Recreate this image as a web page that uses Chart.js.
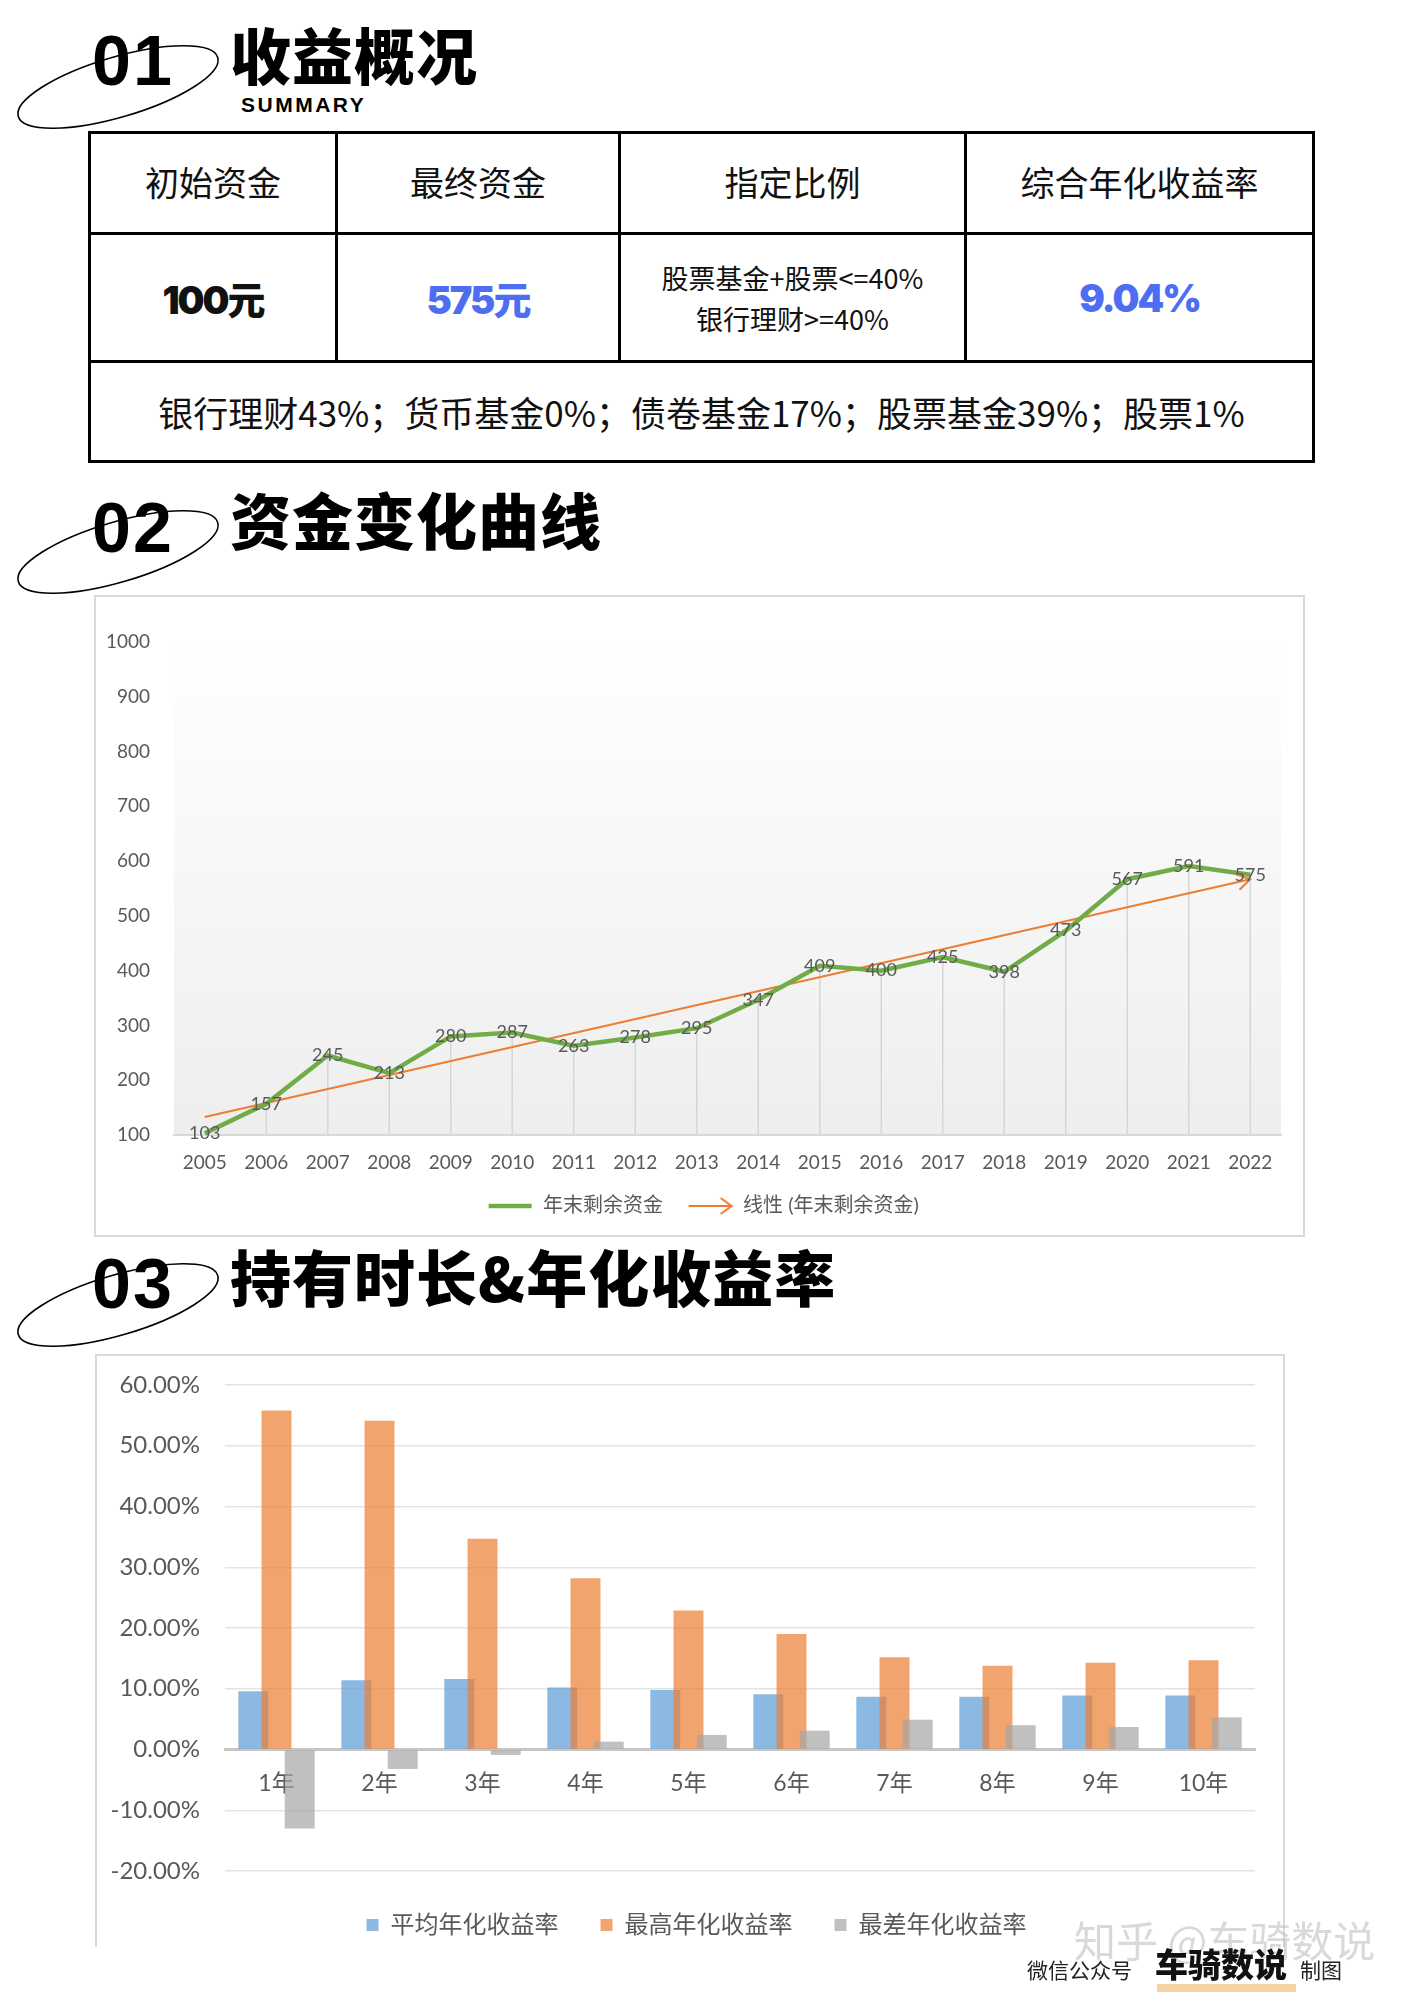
<!DOCTYPE html>
<html>
<head>
<meta charset="utf-8">
<script src="https://cdn.jsdelivr.net/npm/chart.js@4.4.1/dist/chart.umd.min.js"></script>
<style>
  html, body { margin: 0; padding: 0; background: #fff; }
  body { width: 1414px; height: 2000px; position: relative; overflow: hidden; font-family: 'Noto Sans CJK SC', sans-serif; }
  .abs { position: absolute; white-space: nowrap; line-height: 1; }
  .num { font-family: 'Liberation Sans', Arial, sans-serif; font-weight: 700; font-size: 70px; letter-spacing: 2px; color: #000; }
  .ttl { font-family: 'Noto Sans CJK SC', sans-serif; font-weight: 900; font-size: 61px; letter-spacing: 1px; color: #000; }
  .sub { font-family: 'Liberation Sans', Arial, sans-serif; font-weight: 700; font-size: 21px; letter-spacing: 2.5px; }
  table.sum { position: absolute; left: 88px; top: 131px; width: 1224px; border-collapse: collapse; table-layout: fixed; }
  table.sum td { border: 3px solid #000; text-align: center; vertical-align: middle; padding: 0; color: #111; }
  table.sum td.hd { font-size: 34px; font-weight: 400; padding-bottom: 4px; }
  table.sum td.big { font-family: Inter, 'Noto Sans CJK SC', sans-serif; font-weight: 900; font-size: 38px; letter-spacing: -2px; }
  table.sum td.blue { color: #4d6ef2; }
  table.sum td.rule { font-size: 27px; line-height: 41px; }
  table.sum td.mix { font-size: 35px; }
  .box { position: absolute; box-sizing: border-box; border: 2px solid #d9d9d9; }
  .box canvas { display: block; }
</style>
</head>
<body>

<svg class="abs" width="1414" height="2000" style="left:0;top:0;" xmlns="http://www.w3.org/2000/svg">
  <ellipse cx="118" cy="87" rx="104" ry="30" fill="none" stroke="#000" stroke-width="1.6" transform="rotate(-16.5 118 87)"/>
  <ellipse cx="118" cy="552" rx="104" ry="30" fill="none" stroke="#000" stroke-width="1.6" transform="rotate(-16.5 118 552)"/>
  <ellipse cx="118" cy="1305" rx="104" ry="30" fill="none" stroke="#000" stroke-width="1.6" transform="rotate(-16.5 118 1305)"/>
</svg>

<div class="abs num" style="left:92px;top:26px;">01</div>
<div class="abs ttl" style="left:230px;top:23px;">收益概况</div>
<div class="abs sub" style="left:241px;top:94px;">SUMMARY</div>

<table class="sum">
  <colgroup><col style="width:247px"><col style="width:283px"><col style="width:346px"><col style="width:348px"></colgroup>
  <tr style="height:101px">
    <td class="hd">初始资金</td><td class="hd">最终资金</td><td class="hd">指定比例</td><td class="hd">综合年化收益率</td>
  </tr>
  <tr style="height:128px">
    <td class="big">100元</td>
    <td class="big blue">575元</td>
    <td class="rule">股票基金+股票&lt;=40%<br>银行理财&gt;=40%</td>
    <td class="big blue">9.04%</td>
  </tr>
  <tr style="height:100px">
    <td class="mix" colspan="4">银行理财43%；货币基金0%；债卷基金17%；股票基金39%；股票1%</td>
  </tr>
</table>

<div class="abs num" style="left:92px;top:493px;">02</div>
<div class="abs ttl" style="left:230px;top:488px;">资金变化曲线</div>

<div class="box" style="left:94px;top:595px;width:1211px;height:642px;">
  <canvas id="fundChart" width="1207" height="638"></canvas>
</div>

<div class="abs num" style="left:92px;top:1249px;">03</div>
<div class="abs ttl" style="left:230px;top:1245px;">持有时长&amp;年化收益率</div>

<div class="box" style="left:95px;top:1354px;width:1190px;height:593px;border-bottom:none;">
  <canvas id="rateChart" width="1186" height="591"></canvas>
</div>

<div class="abs" style="left:1074px;top:1918px;font-size:42px;color:rgba(185,185,185,0.55);">知乎 @车骑数说</div>
<div class="abs" style="left:1027px;top:1959px;font-size:21px;color:#222;">微信公众号</div>
<div class="abs" style="left:1155px;top:1947px;font-size:33px;font-weight:900;color:#111;">车骑数说</div>
<div class="abs" style="left:1300px;top:1959px;font-size:21px;color:#222;">制图</div>
<div class="abs" style="left:1157px;top:1984px;width:139px;height:8px;background:#f3d3a3;"></div>

<script>
// ---- data: 资金变化曲线 ----
const years = ['2005', '2006', '2007', '2008', '2009', '2010', '2011', '2012', '2013',
               '2014', '2015', '2016', '2017', '2018', '2019', '2020', '2021', '2022'];
const yearEndFunds = [103, 157, 245, 213, 280, 287, 263, 278, 295, 347, 409, 400, 425, 398, 473, 567, 591, 575];
const trendEnds = [133, 567]; // linear trend line at 2005 and 2022
const fundMin = 100;
const fundMax = 1000;
const fundStep = 100;

// ---- data: 持有时长&年化收益率 ----
const holdPeriods = ['1年', '2年', '3年', '4年', '5年', '6年', '7年', '8年', '9年', '10年'];
const avgReturn = [9.6, 11.4, 11.6, 10.2, 9.8, 9.1, 8.7, 8.7, 8.9, 8.9];
const bestReturn = [55.8, 54.1, 34.7, 28.2, 22.9, 19.0, 15.2, 13.8, 14.3, 14.7];
const worstReturn = [-13.0, -3.2, -0.9, 1.3, 2.4, 3.1, 4.9, 4.0, 3.7, 5.3];
const rateMin = -20;
const rateMax = 60;
const rateStep = 10;

Chart.defaults.font.family = "Lato, 'Noto Sans CJK SC', sans-serif";
Chart.defaults.color = '#595959';

// legend icons: green line, orange arrow
function legendIcon(color, arrow) {
  const c = document.createElement('canvas');
  c.width = 46; c.height = 20;
  const g = c.getContext('2d');
  g.strokeStyle = color;
  g.lineWidth = arrow ? 2 : 4.5;
  g.beginPath(); g.moveTo(1, 10); g.lineTo(44, 10); g.stroke();
  if (arrow) {
    g.beginPath(); g.moveTo(33, 2); g.lineTo(44, 10); g.lineTo(33, 18); g.stroke();
  }
  return c;
}
const icons = [legendIcon('#70ad47', false), legendIcon('#ed7d31', true)];

const trendData = years.map((_, i) => i === 0 ? trendEnds[0] : (i === years.length - 1 ? trendEnds[1] : null));

// move the legend box so it is centred like the original
function legendShift(left) {
  return {
    id: 'legendShift',
    afterLayout(chart) { chart.legend.left = left; }
  };
}

const lineDecor = {
  id: 'lineDecor',
  beforeDraw(chart) {
    const { ctx, chartArea: a } = chart;
    const g = ctx.createLinearGradient(0, a.top, 0, a.bottom);
    g.addColorStop(0, '#ffffff');
    g.addColorStop(1, '#eeeeee');
    ctx.save();
    ctx.fillStyle = g;
    ctx.fillRect(a.left, a.top, a.width, a.height);
    ctx.restore();
  },
  beforeDatasetsDraw(chart) {
    // drop lines from each point to the axis
    const { ctx, scales: { y } } = chart;
    const base = y.getPixelForValue(fundMin);
    ctx.save();
    ctx.strokeStyle = '#d6d6d6';
    ctx.lineWidth = 1.5;
    chart.getDatasetMeta(0).data.forEach(p => {
      ctx.beginPath(); ctx.moveTo(p.x, base); ctx.lineTo(p.x, p.y); ctx.stroke();
    });
    ctx.restore();
  },
  afterDatasetsDraw(chart) {
    const ctx = chart.ctx;
    ctx.save();
    // arrow head on trend line
    const tp = chart.getDatasetMeta(1).data;
    const a = tp[0], b = tp[tp.length - 1];
    const ang = Math.atan2(b.y - a.y, b.x - a.x);
    ctx.strokeStyle = '#ed7d31';
    ctx.lineWidth = 2;
    ctx.beginPath();
    ctx.moveTo(b.x - 15 * Math.cos(ang - 0.55), b.y - 15 * Math.sin(ang - 0.55));
    ctx.lineTo(b.x, b.y);
    ctx.lineTo(b.x - 15 * Math.cos(ang + 0.55), b.y - 15 * Math.sin(ang + 0.55));
    ctx.stroke();
    // value labels centred on the points
    ctx.font = "18px Lato, sans-serif";
    ctx.fillStyle = '#595959';
    ctx.textAlign = 'center';
    ctx.textBaseline = 'middle';
    chart.getDatasetMeta(0).data.forEach((p, i) => ctx.fillText(String(yearEndFunds[i]), p.x, p.y));
    ctx.restore();
  }
};

new Chart(document.getElementById('fundChart'), {
  type: 'line',
  data: {
    labels: years,
    datasets: [
      {
        label: '年末剩余资金',
        data: yearEndFunds,
        borderColor: '#70ad47',
        backgroundColor: '#70ad47',
        borderWidth: 4.5,
        pointRadius: 0,
        tension: 0
      },
      {
        label: '线性 (年末剩余资金)',
        data: trendData,
        borderColor: '#ed7d31',
        backgroundColor: '#ed7d31',
        borderWidth: 2,
        pointRadius: 0,
        spanGaps: true
      }
    ]
  },
  options: {
    responsive: false,
    animation: false,
    layout: { padding: { left: 0, right: 22, top: 45, bottom: 9 } },
    scales: {
      x: {
        offset: true,
        grid: { display: false, drawTicks: false },
        border: { display: true, color: '#d9d9d9', width: 2 },
        ticks: { font: { size: 19 }, padding: 16, maxRotation: 0 },
        afterFit(s) { s.height = 36; }
      },
      y: {
        min: fundMin,
        max: fundMax,
        grid: { display: false, drawTicks: false },
        border: { display: false },
        ticks: { stepSize: fundStep, font: { size: 19 }, padding: 24, callback: v => String(v) },
        afterFit(s) { s.width = 78; s.paddingTop = 0; s.paddingBottom = 0; }
      }
    },
    plugins: {
      tooltip: { enabled: false },
      legend: {
        position: 'bottom',
        labels: {
          usePointStyle: true,
          pointStyleWidth: 45,
          padding: 25,
          font: { size: 20 },
          color: '#595959',
          generateLabels(chart) {
            const items = Chart.defaults.plugins.legend.labels.generateLabels(chart);
            items.forEach((it, i) => { it.pointStyle = icons[i]; });
            return items;
          }
        }
      }
    }
  },
  plugins: [lineDecor, legendShift(30)]
});

// later series drawn on top, as in the original (overlapping bars)
const overlapOrder = {
  id: 'overlapOrder',
  beforeDatasetsDraw(chart) {
    const { ctx, chartArea: a } = chart;
    ctx.save();
    ctx.beginPath();
    ctx.rect(a.left, a.top, a.width, a.height);
    ctx.clip();
    chart.data.datasets.forEach((d, i) => chart.getDatasetMeta(i).controller.draw());
    ctx.restore();
    return false;
  }
};

new Chart(document.getElementById('rateChart'), {
  type: 'bar',
  data: {
    labels: holdPeriods,
    datasets: [
      { label: '平均年化收益率', data: avgReturn, backgroundColor: 'rgba(91,155,213,0.7)' },
      { label: '最高年化收益率', data: bestReturn, backgroundColor: 'rgba(237,125,49,0.7)' },
      { label: '最差年化收益率', data: worstReturn, backgroundColor: 'rgba(165,165,165,0.7)' }
    ]
  },
  options: {
    responsive: false,
    animation: false,
    categoryPercentage: 0.676,
    barPercentage: 1.29,
    layout: { padding: { left: 0, right: 28, top: 29, bottom: 0 } },
    scales: {
      x: {
        position: { y: 0 },
        grid: { display: false, drawTicks: false },
        border: { display: true, color: '#c6c6c6', width: 3 },
        ticks: { font: { size: 23 }, padding: 20, maxRotation: 0 }
      },
      y: {
        min: rateMin,
        max: rateMax,
        grid: {
          drawTicks: false,
          lineWidth: 1.5,
          color: ctx => ctx.tick && ctx.tick.value === 0 ? 'rgba(0,0,0,0)' : '#e4e4e4'
        },
        border: { display: false },
        ticks: {
          stepSize: rateStep,
          font: { size: 24 },
          padding: 25,
          callback: v => v.toFixed(2) + '%'
        },
        afterFit(s) { s.width = 128; s.paddingTop = 0; s.paddingBottom = 0; }
      }
    },
    plugins: {
      tooltip: { enabled: false },
      legend: {
        position: 'bottom',
        labels: { boxWidth: 12, boxHeight: 12, padding: 42, font: { size: 24 }, color: '#595959' }
      }
    }
  },
  plugins: [overlapOrder, legendShift(41)]
});
</script>
</body>
</html>
